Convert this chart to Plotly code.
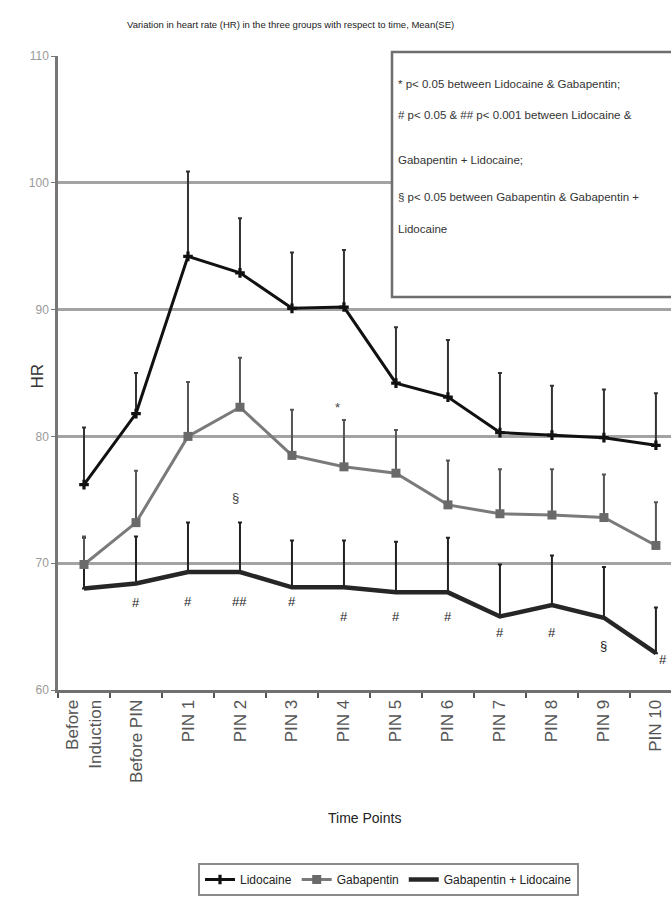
import plotly.graph_objects as go

# Time points on the x axis
time_points = ["Before<br>Induction", "Before PIN", "PIN 1", "PIN 2", "PIN 3", "PIN 4",
               "PIN 5", "PIN 6", "PIN 7", "PIN 8", "PIN 9", "PIN 10"]

# Heart rate, mean and standard error per group
lido_mean = [76.2, 81.8, 94.2, 92.9, 90.1, 90.2, 84.2, 83.1, 80.3, 80.1, 79.9, 79.3]
lido_se = [4.5, 3.2, 6.7, 4.3, 4.4, 4.5, 4.4, 4.5, 4.7, 3.9, 3.8, 4.1]

gaba_mean = [69.9, 73.2, 80.0, 82.3, 78.5, 77.6, 77.1, 74.6, 73.9, 73.8, 73.6, 71.4]
gaba_se = [2.2, 4.1, 4.3, 3.9, 3.6, 3.7, 3.4, 3.5, 3.5, 3.6, 3.4, 3.4]

combo_mean = [68.0, 68.4, 69.3, 69.3, 68.1, 68.1, 67.7, 67.7, 65.8, 66.7, 65.7, 62.9]
combo_se = [4.0, 3.7, 3.9, 3.9, 3.7, 3.7, 4.0, 4.3, 4.1, 3.9, 4.0, 3.6]

# Significance marks under the Gabapentin + Lidocaine curve
sig_marks = ["", "#", "#", "##", "#", "#", "#", "#", "#", "#", "§", "#"]
sig_y = [None, 66.9, 67.0, 67.0, 67.0, 65.8, 65.8, 65.8, 64.5, 64.5, 63.5, 62.4]

y_ticks = [60, 70, 80, 90, 100, 110]

footnotes = [
    "* p< 0.05 between Lidocaine & Gabapentin;",
    "# p< 0.05 & ## p< 0.001 between Lidocaine &",
    "Gabapentin + Lidocaine;",
    "§ p< 0.05 between Gabapentin & Gabapentin +",
    "Lidocaine",
]

NARROW = "Liberation Sans Narrow, Arial Narrow, sans-serif"
REG = "Liberation Sans, Arial, sans-serif"

W, H = 671, 924
L, R, T, B = 58, 0, 56, 234
PH = H - T - B
PW = W - L - R


def py(pix):
    """paper y from a pixel row"""
    return (H - B - pix) / PH


def px(pix):
    """paper x from a pixel column"""
    return (pix - L) / PW


fig = go.Figure()

fig.add_trace(go.Scatter(
    x=time_points, y=combo_mean, name="Gabapentin + Lidocaine",
    mode="lines", line=dict(color="#262626", width=4.5),
    error_y=dict(type="data", symmetric=False, array=combo_se,
                 arrayminus=[0] * len(combo_se), color="#222222",
                 thickness=2, width=2),
))
fig.add_trace(go.Scatter(
    x=time_points, y=gaba_mean, name="Gabapentin",
    mode="lines+markers", line=dict(color="#7a7a7a", width=3),
    marker=dict(symbol="square", size=9, color="#6a6a6a"),
    error_y=dict(type="data", symmetric=False, array=gaba_se,
                 arrayminus=[0] * len(gaba_se), color="#555555",
                 thickness=2, width=2),
))
fig.add_trace(go.Scatter(
    x=time_points, y=lido_mean, name="Lidocaine",
    mode="lines+markers", line=dict(color="#111111", width=3),
    marker=dict(symbol="cross", size=8, color="#111111"),
    error_y=dict(type="data", symmetric=False, array=lido_se,
                 arrayminus=[0] * len(lido_se), color="#333333",
                 thickness=2, width=2),
))

annotations = []
for i, (m, yv) in enumerate(zip(sig_marks, sig_y)):
    if m and yv is not None:
        annotations.append(dict(
            x=time_points[i], y=yv, xref="x", yref="y", text=m,
            showarrow=False, xshift=7 if i == len(time_points) - 1 else 0,
            font=dict(family=NARROW, size=13, color="#222222"),
        ))
# between-group marks above the curves
annotations.append(dict(x=time_points[3], y=75.2, xref="x", yref="y", text="§",
                        showarrow=False, xshift=-4,
                        font=dict(family=NARROW, size=13, color="#444444")))
annotations.append(dict(x=time_points[5], y=82.3, xref="x", yref="y", text="*",
                        showarrow=False, xshift=-6,
                        font=dict(family=NARROW, size=13, color="#444444")))

# chart title
annotations.append(dict(
    x=px(290), y=py(17), xref="paper", yref="paper", showarrow=False,
    text="Variation in heart rate (HR) in the three groups with respect to time, Mean(SE)",
    font=dict(family=NARROW, size=9.5, color="#222222"),
))
# axis titles
annotations.append(dict(
    x=px(365), y=py(828), xref="paper", yref="paper", showarrow=False,
    text="Time Points", font=dict(family=NARROW, size=14, color="#222222"),
))
annotations.append(dict(
    x=px(25), y=py(376), xref="paper", yref="paper", showarrow=False,
    text="HR", textangle=-90, font=dict(family=REG, size=17, color="#333333"),
))

# footnote text inside the box
note_rows = [76, 107, 152, 189, 221]
for txt, row in zip(footnotes, note_rows):
    annotations.append(dict(
        x=px(396), y=py(row), xref="paper", yref="paper", showarrow=False,
        xanchor="left", text=txt,
        font=dict(family=NARROW, size=11.5, color="#333333"),
    ))

shapes = [dict(
    type="rect", xref="paper", yref="paper", layer="above",
    x0=px(392), x1=px(675), y0=py(297), y1=py(52),
    line=dict(color="#6e6e6e", width=2.5), fillcolor="white",
)]

fig.update_layout(
    width=W, height=H,
    margin=dict(l=L, r=R, t=T, b=B),
    paper_bgcolor="white", plot_bgcolor="white",
    annotations=annotations, shapes=shapes,
    showlegend=True,
    legend=dict(
        orientation="h", x=px(198), y=py(863), xanchor="left", yanchor="top",
        traceorder="reversed",
        bordercolor="#8a8a8a", borderwidth=2, bgcolor="white",
        font=dict(family=NARROW, size=12, color="#222222"),
        itemwidth=30,
    ),
    xaxis=dict(
        type="category", range=[-0.5, 11.29],
        tickangle=-90, tickson="boundaries", ticks="outside", ticklen=5,
        tickcolor="#555555", tickwidth=1.5,
        showline=True, linecolor="#707070", linewidth=3,
        showgrid=False, zeroline=False,
        tickfont=dict(family=REG, size=17, color="#555555"),
    ),
    yaxis=dict(
        range=[60, 110], tickvals=y_ticks, ticktext=[str(v) for v in y_ticks],
        ticks="outside", ticklen=4, tickcolor="#777777",
        showline=True, linecolor="#777777", linewidth=2.5,
        showgrid=True, gridcolor="#a3a3a3", gridwidth=3,
        zeroline=False,
        tickfont=dict(family=NARROW, size=12, color="#9a9a9a"),
    ),
)

fig.write_html("out.html")
